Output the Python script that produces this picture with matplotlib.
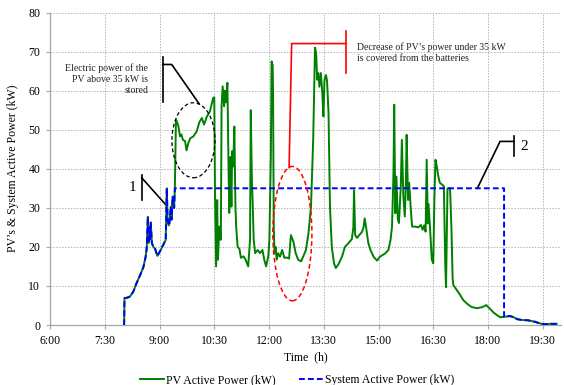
import numpy as np
import matplotlib
matplotlib.use('Agg')
from matplotlib import pyplot as plt
from matplotlib.patches import Ellipse
from matplotlib.ticker import MultipleLocator, FuncFormatter

# PV output (time in decimal hours, power in kW)
pv_time = [
    8.03, 8.04, 8.12, 8.19, 8.28, 8.37, 8.47, 8.56, 8.62, 8.65, 8.68, 8.70, 8.73, 8.74, 8.76,
    8.79, 8.83, 8.88, 8.94, 9.01, 9.10, 9.17, 9.20, 9.22, 9.25, 9.27, 9.31, 9.33, 9.36, 9.40,
    9.42, 9.45, 9.48, 9.52, 9.56, 9.60, 9.64, 9.70, 9.74, 9.79, 9.84, 9.93, 10.02, 10.09, 10.16,
    10.22, 10.29, 10.38, 10.47, 10.50, 10.52, 10.55, 10.58, 10.60, 10.64, 10.68, 10.70, 10.73,
    10.77, 10.79, 10.82, 10.86, 10.89, 10.91, 10.94, 10.97, 10.99, 11.02, 11.05, 11.08, 11.10,
    11.14, 11.19, 11.23, 11.30, 11.36, 11.43, 11.48, 11.50, 11.53, 11.55, 11.58, 11.62, 11.69,
    11.75, 11.82, 11.87, 11.92, 11.98, 12.01, 12.05, 12.07, 12.10, 12.11, 12.13, 12.15, 12.18,
    12.21, 12.25, 12.30, 12.36, 12.42, 12.48, 12.55, 12.60, 12.67, 12.73, 12.80, 12.88, 12.94,
    13.01, 13.08, 13.15, 13.21, 13.26, 13.29, 13.32, 13.35, 13.38, 13.42, 13.46, 13.49, 13.52,
    13.56, 13.59, 13.63, 13.67, 13.72, 13.78, 13.83, 13.90, 14.00, 14.08, 14.18, 14.27, 14.31,
    14.33, 14.36, 14.41, 14.47, 14.52, 14.55, 14.59, 14.62, 14.66, 14.72, 14.78, 14.87, 14.96,
    15.04, 15.18, 15.27, 15.33, 15.37, 15.41, 15.43, 15.46, 15.49, 15.53, 15.56, 15.61, 15.64,
    15.68, 15.72, 15.75, 15.77, 15.81, 15.84, 15.88, 15.92, 16.00, 16.09, 16.16, 16.21, 16.25,
    16.29, 16.32, 16.35, 16.37, 16.41, 16.46, 16.50, 16.53, 16.56, 16.59, 16.64, 16.68, 16.75,
    16.79, 16.83, 16.85, 16.89, 16.96, 17.00, 17.03, 17.05, 17.14, 17.23, 17.32, 17.42, 17.55,
    17.70, 17.85, 17.95, 18.05, 18.15, 18.25, 18.33, 18.44, 18.60, 18.70, 18.80, 18.92, 19.10,
    19.30, 19.42, 19.55, 19.70, 19.88,
]
pv_power = [
    0.0, 6.9, 7.0, 7.3, 8.5, 10.7, 12.8, 14.9, 17.5, 19.7, 27.7, 21.0, 25.2, 22.0, 26.3,
    21.0, 20.0, 19.5, 17.7, 18.8, 20.5, 21.8, 35.0, 27.0, 25.5, 26.0, 30.3, 27.0, 32.9, 30.0,
    35.0, 52.5, 52.0, 50.8, 48.3, 48.8, 47.4, 47.1, 44.7, 46.6, 47.8, 48.3, 49.6, 51.9, 53.0,
    51.3, 53.2, 54.7, 58.1, 58.3, 33.8, 15.0, 32.0, 16.7, 25.2, 21.8, 56.0, 61.1,
    56.0, 60.0, 57.0, 62.0, 40.6, 28.7, 43.0, 30.3, 44.5, 40.6, 50.8, 30.3, 25.2,
    20.0, 19.5, 17.2, 17.6, 16.7, 15.0, 21.8, 55.0, 37.2, 32.0, 21.8, 18.4, 19.2,
    18.4, 19.2, 16.7, 15.0, 17.6, 21.8, 43.0, 67.5, 66.5, 60.0, 25.0, 18.4, 20.0,
    16.7, 18.4, 17.5, 19.2, 17.2, 17.3, 17.0, 23.0, 21.3, 18.4, 16.7, 16.3, 17.6,
    19.2, 23.4, 30.3, 47.4, 71.0, 69.6, 62.8, 64.5, 61.0, 64.5, 59.4, 53.4, 62.8,
    64.0, 62.5, 54.4, 30.3, 20.0, 15.8, 14.6, 15.5, 17.5, 20.0, 21.0, 22.0, 25.0,
    34.5, 23.0, 22.3, 23.0, 23.5, 23.9, 25.0, 27.3, 25.0, 21.0, 19.2, 17.4, 16.5,
    17.5, 18.3, 19.2, 21.8, 25.2, 38.9, 56.4, 28.6, 38.0, 27.0, 26.1, 35.5, 47.4,
    33.0, 27.8, 36.4, 48.7, 32.0, 36.4, 30.3, 25.2, 25.2, 25.0, 25.6, 24.4, 25.5,
    23.9, 42.3, 26.0, 31.0, 25.0, 16.7, 15.8, 32.0, 42.3, 41.0, 38.0, 36.4, 35.9,
    35.5, 15.0, 9.7, 35.0, 35.0, 24.0, 12.0, 10.2, 9.0, 7.8, 6.4, 5.5, 4.6,
    4.3, 4.6, 5.1, 4.2, 3.2, 2.5, 2.0, 2.1, 2.3, 2.0, 1.5, 1.3, 1.2,
    0.8, 0.4, 0.2, 0.3, 0.3,
]

# system output is capped at 35 kW while the batteries are in use
power_limit = 35.0
limit_start = 9.42
limit_end = 18.44

pv_t = np.array(pv_time)
pv_p = np.array(pv_power)
before = pv_t <= limit_start
after = pv_t >= limit_end
sys_t = np.concatenate([pv_t[before], [limit_end], pv_t[after]])
sys_p = np.concatenate([pv_p[before], [power_limit], pv_p[after]])

x_ticks = np.arange(6, 20.01, 1.5)

plt.rcParams['font.family'] = ['Liberation Serif', 'DejaVu Serif']

fig = plt.figure(figsize=(5.64, 3.85), dpi=100)
ax = fig.add_axes([0.0887, 0.1558, 0.906, 0.8117])

ax.plot(pv_t, pv_p, color='#008000', lw=1.4, label='PV Active Power (kW)', zorder=3)
ax.plot(sys_t, sys_p, color='#0000ff', lw=1.4, ls=(0, (3.0, 1.6)),
        label='System Active Power (kW)', zorder=4)

ax.set_xlim(6, 20)
ax.set_ylim(0, 80)
ax.set_xticks(x_ticks)
ax.xaxis.set_major_formatter(FuncFormatter(
    lambda v, p: f'{int(v)}:{int(round((v % 1) * 60)):02d}'))
ax.yaxis.set_major_locator(MultipleLocator(10))
ax.grid(True, color='#b4b4b4', ls=(0, (1.5, 1.5)), lw=0.7)
ax.set_axisbelow(True)

for side in ['top', 'right']:
    ax.spines[side].set_visible(False)
for side in ['left', 'bottom']:
    ax.spines[side].set_color('#a6a6a6')
    ax.spines[side].set_linewidth(0.9)
ax.tick_params(axis='both', colors='#a6a6a6', labelcolor='black', labelsize=8.5,
               length=3, width=0.8, pad=4)

ax.set_xlabel('Time  (h)', fontsize=8.5, labelpad=3)
ax.set_ylabel('PV\u2019s & System Active Power (kW)', fontsize=8.5)
ax.yaxis.set_label_coords(-0.06, 0.5)

# annotations
ax.add_patch(Ellipse((9.93, 47.3), 1.18, 19.2, fill=False, ec='black', ls=(0, (3, 2)), lw=0.9, zorder=5))
ax.plot([9.088, 9.088], [57.2, 68.7], color='black', lw=1.2)
ax.plot([9.088, 9.334, 10.08], [66.7, 66.7, 56.7], color='black', lw=1.2)
ax.text(8.685, 62.9, 'Electric power of the\nPV above 35 kW is\nstored', fontsize=7,
        ha='right', va='center', multialignment='right', linespacing=1.25, color='#222222')

ax.plot([8.512, 8.512], [32.0, 38.5], color='black', lw=1.2)
ax.plot([8.512, 9.17], [37.7, 30.8], color='black', lw=1.2)
ax.text(8.25, 35.1, '1', fontsize=11, ha='center', va='center')

ax.plot([18.71, 18.71], [43.2, 48.5], color='black', lw=1.2)
ax.plot([17.71, 18.33, 18.71], [35.05, 47.0, 47.0], color='black', lw=1.2)
ax.text(18.99, 45.7, '2', fontsize=11, ha='center', va='center')

ax.add_patch(Ellipse((12.64, 23.4), 1.07, 34.4, fill=False, ec='#ff0000', ls=(0, (3, 2)), lw=1.1, zorder=5))
ax.plot([12.55, 12.62, 14.11], [40.3, 72.05, 72.05], color='#ff0000', lw=1.2)
ax.plot([14.11, 14.11], [64.4, 75.2], color='#ff0000', lw=1.2)
ax.text(14.41, 69.7, 'Decrease of PV\u2019s power under 35 kW\nis covered from the batteries',
        fontsize=7, ha='left', va='center', linespacing=1.25, color='#222222')

fig.legend(loc='center', bbox_to_anchor=(0.527, 0.012), ncol=2, frameon=False,
           fontsize=8.5, handlelength=2.0, handletextpad=0.2, columnspacing=2.0)

fig.savefig('out.png', dpi=100)
